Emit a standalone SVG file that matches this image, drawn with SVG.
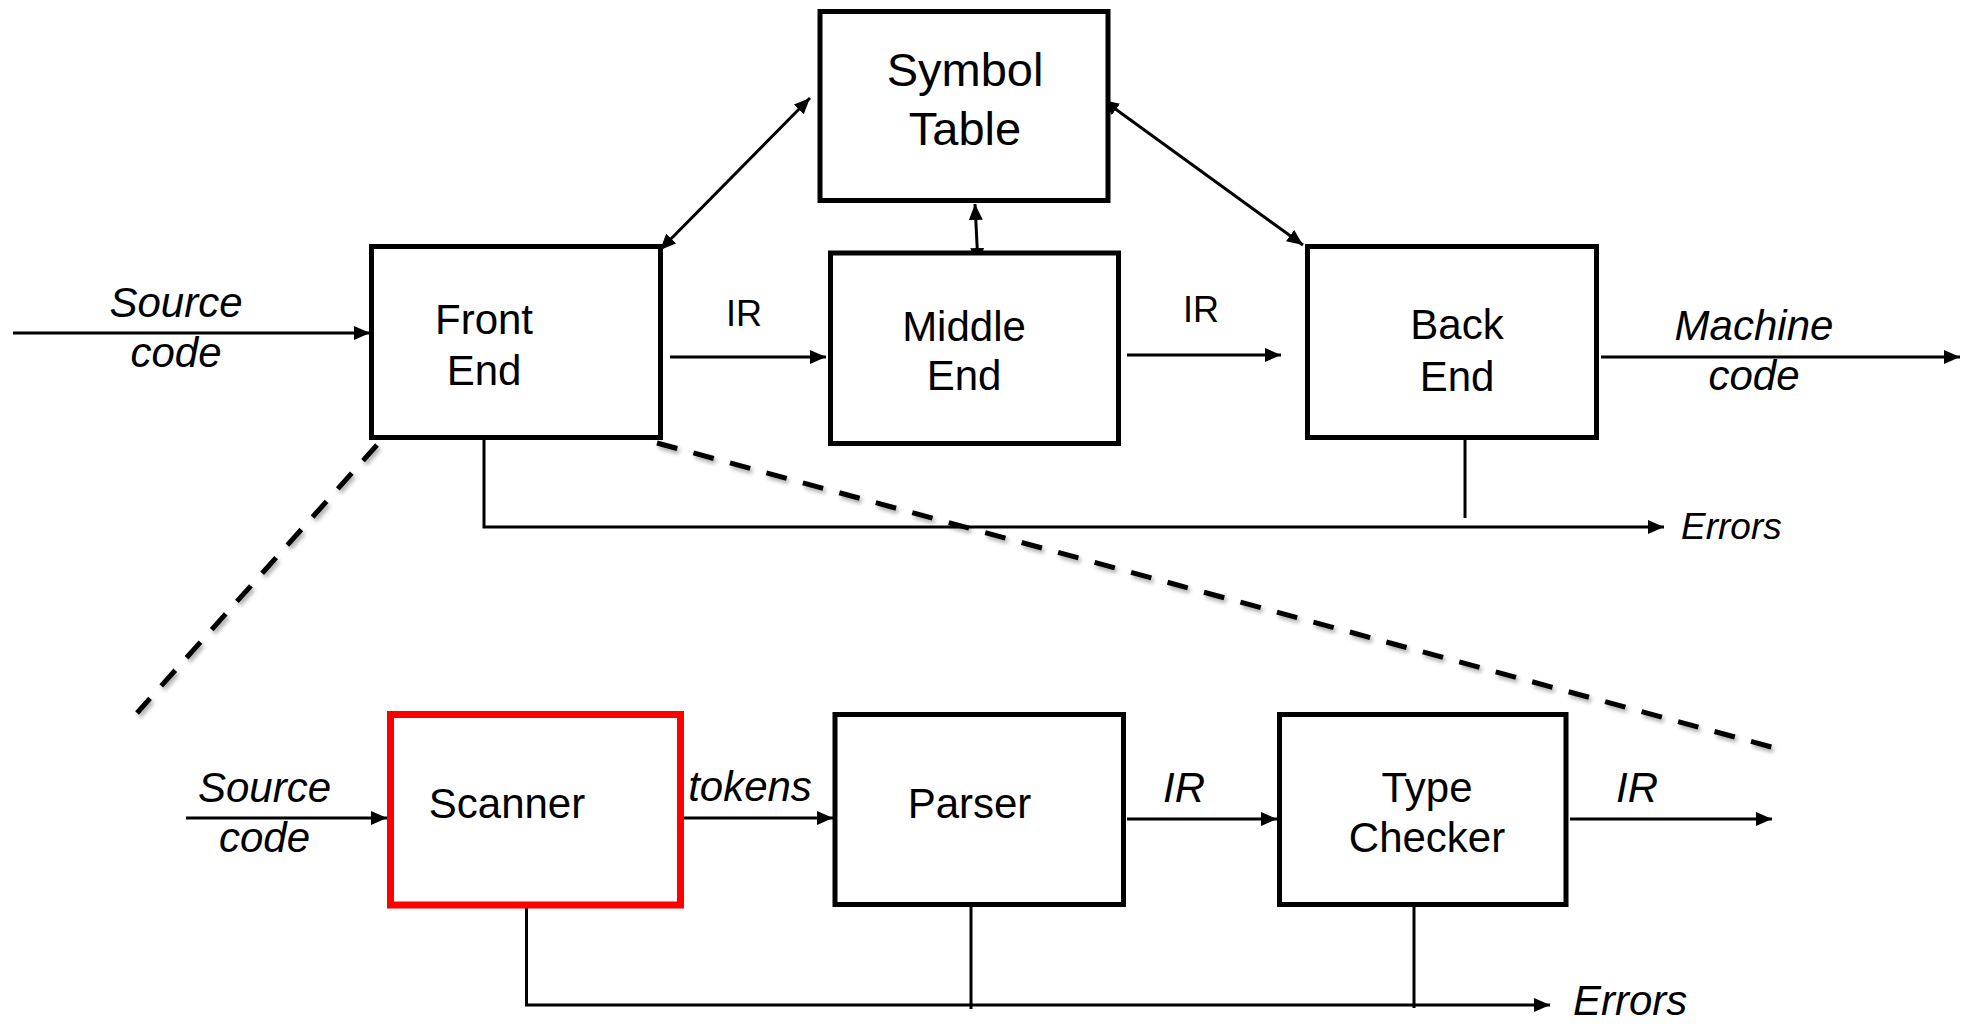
<svg xmlns="http://www.w3.org/2000/svg" width="1967" height="1024" viewBox="0 0 1967 1024">
<style>
.box{fill:#fff;stroke:#000;stroke-width:5}
.red{fill:#fff;stroke:#ff0000;stroke-width:7}
.t{font-family:"Liberation Sans",Arial,sans-serif;font-size:42px;fill:#000;text-anchor:middle}
.i{font-style:italic}
.c{fill:none;stroke:#000;stroke-width:3}
.d{fill:none;stroke:#000;stroke-width:5;stroke-dasharray:21 16.8}
</style>
<defs>
<marker id="ah" viewBox="0 0 16 14" refX="16" refY="7" markerWidth="16" markerHeight="14" markerUnits="userSpaceOnUse" orient="auto-start-reverse">
<path d="M0,0 L16,7 L0,14 z" fill="#000"/>
</marker>
<filter id="sh" x="-10%" y="-10%" width="120%" height="120%">
<feGaussianBlur in="SourceAlpha" stdDeviation="2"/>
<feOffset dx="2" dy="3" result="b"/>
<feComponentTransfer><feFuncA type="linear" slope="0.35"/></feComponentTransfer>
<feMerge><feMergeNode/><feMergeNode in="SourceGraphic"/></feMerge>
</filter>
</defs>
<g id="connectors">
<line class="d" filter="url(#sh)" x1="377" y1="445" x2="137" y2="713"/>
<line class="d" filter="url(#sh)" x1="657" y1="443" x2="1775" y2="748"/>
<line class="c" x1="13" y1="333" x2="370" y2="333" marker-end="url(#ah)"/>
<line class="c" x1="670" y1="357" x2="826" y2="357" marker-end="url(#ah)"/>
<line class="c" x1="1127" y1="355" x2="1281" y2="355" marker-end="url(#ah)"/>
<line class="c" x1="1601" y1="357" x2="1960" y2="357" marker-end="url(#ah)"/>
<line class="c" x1="660" y1="250" x2="810" y2="98" marker-start="url(#ah)" marker-end="url(#ah)"/>
<line class="c" x1="975" y1="204" x2="978" y2="264" marker-start="url(#ah)" marker-end="url(#ah)"/>
<line class="c" x1="1103" y1="100" x2="1303" y2="245" marker-start="url(#ah)" marker-end="url(#ah)"/>
<polyline class="c" points="484,440 484,527 1664,527" marker-end="url(#ah)"/>
<line class="c" x1="1465" y1="440" x2="1465" y2="518"/>
<line class="c" x1="186" y1="818" x2="387" y2="818" marker-end="url(#ah)"/>
<line class="c" x1="684" y1="818" x2="833" y2="818" marker-end="url(#ah)"/>
<line class="c" x1="1127" y1="819" x2="1277" y2="819" marker-end="url(#ah)"/>
<line class="c" x1="1570" y1="819" x2="1772" y2="819" marker-end="url(#ah)"/>
<polyline class="c" points="526.5,908 526.5,1005 1550,1005" marker-end="url(#ah)"/>
<line class="c" x1="971" y1="907" x2="971" y2="1009"/>
<line class="c" x1="1414" y1="907" x2="1414" y2="1008"/>
</g>
<g id="front-end">
<rect class="box" x="371.5" y="246.5" width="289" height="191"/>
<text class="t" x="484" y="334">Front</text>
<text class="t" x="484" y="385">End</text>
</g>
<g id="symbol-table">
<rect class="box" x="820" y="11.5" width="288" height="189"/>
<text class="t" x="965" y="86" style="font-size:47px">Symbol</text>
<text class="t" x="965" y="145" style="font-size:47px">Table</text>
</g>
<g id="middle-end">
<rect class="box" x="830.5" y="253" width="288" height="190.5"/>
<text class="t" x="964" y="341">Middle</text>
<text class="t" x="964" y="390">End</text>
</g>
<g id="back-end">
<rect class="box" x="1307.5" y="246.5" width="289" height="191"/>
<text class="t" x="1457" y="339">Back</text>
<text class="t" x="1457" y="391">End</text>
</g>
<g id="scanner">
<rect class="red" x="390.5" y="714.5" width="290" height="190.5"/>
<text class="t" x="507" y="818">Scanner</text>
</g>
<g id="parser">
<rect class="box" x="835" y="714.5" width="288.5" height="190"/>
<text class="t" x="969.5" y="818">Parser</text>
</g>
<g id="type-checker">
<rect class="box" x="1279.5" y="714.5" width="286.5" height="190"/>
<text class="t" x="1427" y="802">Type</text>
<text class="t" x="1427" y="852">Checker</text>
</g>
<g id="labels">
<text class="t i" x="176" y="317">Source</text>
<text class="t i" x="176" y="367">code</text>
<text class="t" x="744" y="326" style="font-size:36px">IR</text>
<text class="t" x="1201" y="322" style="font-size:36px">IR</text>
<text class="t i" x="1754" y="340">Machine</text>
<text class="t i" x="1754" y="390">code</text>
<text class="t i" x="1681" y="539" style="font-size:37px;text-anchor:start">Errors</text>
<text class="t i" x="264.5" y="802">Source</text>
<text class="t i" x="264.5" y="852">code</text>
<text class="t i" x="750" y="801">tokens</text>
<text class="t i" x="1184" y="802">IR</text>
<text class="t i" x="1637" y="802">IR</text>
<text class="t i" x="1573" y="1015" style="text-anchor:start">Errors</text>
</g>
</svg>
